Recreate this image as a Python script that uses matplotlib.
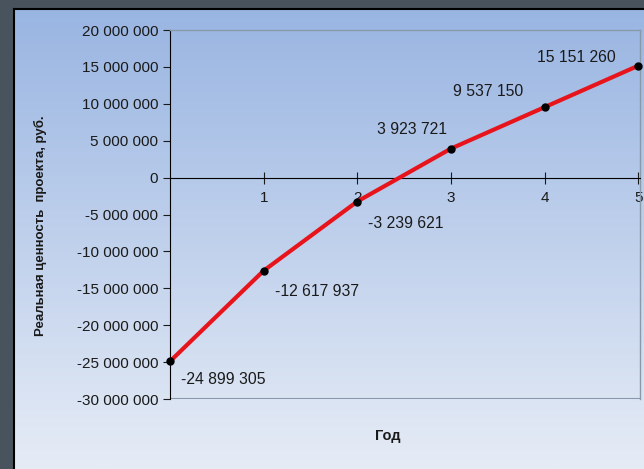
import numpy as np
import matplotlib.pyplot as plt
from matplotlib.patches import Rectangle

plt.rcParams['font.family'] = ['Liberation Sans', 'DejaVu Sans']

years = [0, 1, 2, 3, 4, 5]
values = [-24899305, -12617937, -3239621, 3923721, 9537150, 15151260]
label_offsets = [(8, -13), (8, -15), (8, -16), (-3, 14), (-15, 11), (-16, 6)]
label_ha = ['left', 'left', 'left', 'right', 'right', 'right']

W, H = 644, 469
fig = plt.figure(figsize=(W / 100, H / 100), dpi=100)

# background: dark frame and gradient chart area
bg = fig.add_axes([0, 0, 1, 1])
bg.set_xlim(0, W)
bg.set_ylim(H, 0)
bg.axis('off')
bg.add_patch(Rectangle((0, 0), W, H, color='#48535e'))
top = np.array([153, 181, 226]) / 255
bot = np.array([230, 236, 246]) / 255
t = np.linspace(0, 1, 256)[:, None, None]
grad = top * (1 - t) + bot * t
bg.imshow(grad, extent=(14, W, H, 9), aspect='auto', zorder=1)
bg.plot([14, W], [9.5, 9.5], color='black', lw=1.5, zorder=2)
bg.plot([14.5, 14.5], [9, H], color='black', lw=1.5, zorder=2)

ax = fig.add_axes([170 / W, 1 - 399 / H, 470 / W, 369 / H])
ax.patch.set_alpha(0)
ax.plot(years, values, color='#e8141c', lw=3, zorder=3, clip_on=False)
ax.plot(years, values, 'o', color='black', ms=5, zorder=4, clip_on=False)

def fmt(v):
    return '{:,}'.format(v).replace(',', ' ')

for x, v, off, ha in zip(years, values, label_offsets, label_ha):
    ax.annotate(fmt(v), (x, v), xytext=off, textcoords='offset points',
                ha=ha, va='center', fontsize=11.3, color='#1a1a1a')

ax.set_xlim(0, 5.02)
ax.set_ylim(-30000000, 20000000)
ax.set_yticks(np.arange(-30000000, 20000001, 5000000))
ax.yaxis.set_major_formatter(plt.FuncFormatter(lambda v, p: fmt(int(v))))
ax.tick_params(axis='y', labelsize=11, colors='#1a1a1a', length=5, direction='out')

ax.spines['left'].set_position(('data', 0))
ax.spines['bottom'].set_position(('data', 0))
ax.spines['left'].set_color('black')
ax.spines['bottom'].set_color('black')
ax.spines['top'].set_color('#8899aa')
ax.spines['right'].set_color('#8899aa')
ax.spines['top'].set_linewidth(1)
ax.spines['right'].set_linewidth(1)
ax.set_xticks([1, 2, 3, 4, 5])
ax.tick_params(axis='x', direction='inout', length=8, labelsize=11,
               colors='#1a1a1a', pad=6)

# grey bottom border of plot area
ax.axhline(-30000000, color='#8899aa', lw=1.5, zorder=2)

fig.text(40 / W, 1 - 226 / H, 'Реальная ценность  проекта, руб.', rotation=90,
         ha='center', va='center', fontsize=9.5, fontweight='bold', color='#1a1a1a')
fig.text(388 / W, 1 - 436 / H, 'Год', ha='center', va='center',
         fontsize=10.5, fontweight='bold', color='#1a1a1a')

fig.savefig('out.png', dpi=100)
